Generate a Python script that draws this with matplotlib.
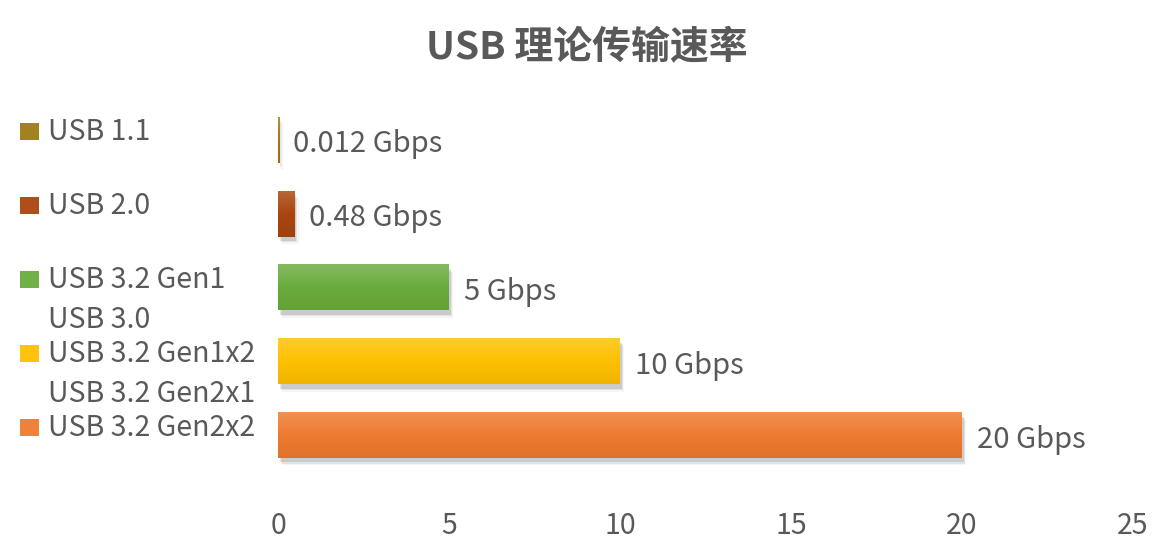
import numpy as np
import matplotlib
matplotlib.use("Agg")
from matplotlib import pyplot as plt
from matplotlib import colors as mcolors
from matplotlib.patches import Rectangle

plt.rcParams['font.family'] = ['Noto Sans CJK SC', 'DejaVu Sans']

# 数据
categories = ["USB 1.1", "USB 2.0", "USB 3.2 Gen1\nUSB 3.0",
              "USB 3.2 Gen1x2\nUSB 3.2 Gen2x1", "USB 3.2 Gen2x2"]
speeds = [0.012, 0.48, 5, 10, 20]
speed_labels = ["0.012 Gbps", "0.48 Gbps", "5 Gbps", "10 Gbps", "20 Gbps"]
bar_colors = ["#9C7B12", "#A9450F", "#6AAB3D", "#FFC000", "#EE7A2E"]
xticks = [0, 5, 10, 15, 20, 25]

text_color = "#595959"
W, H = 1174, 559

fig = plt.figure(figsize=(W / 100, H / 100), dpi=100)
ax = fig.add_axes([278 / W, 1 - 472 / H, (1133 - 278) / W, (472 - 103) / H])

bar_h = 0.62


def shade(c, f):
    r = np.array(mcolors.to_rgb(c))
    if f > 0:
        return r + (1 - r) * f
    return r * (1 + f)


for i, (v, c) in enumerate(zip(speeds, bar_colors)):
    w = max(v, 0.03)
    # 阴影
    for k, a in enumerate([0.10, 0.07, 0.04]):
        ax.add_patch(Rectangle((0.05 + 0.04 * k, i - bar_h / 2 + 0.06 + 0.02 * k), w, bar_h,
                               facecolor="black", alpha=a, edgecolor="none", zorder=1))
    # 渐变
    top = shade(c, 0.18)
    mid = shade(c, 0.0)
    bot = shade(c, -0.06)
    t = np.linspace(0, 1, 60)[:, None]
    grad = np.where(t < 0.5, top + (mid - top) * (t / 0.5),
                    mid + (bot - mid) * ((t - 0.5) / 0.5))
    grad = grad.reshape(60, 1, 3)
    ax.imshow(grad, extent=(0, w, i + bar_h / 2, i - bar_h / 2), aspect="auto",
              zorder=2, interpolation="bilinear")
    ax.text(v + 0.44, i + 0.06, speed_labels[i], va="center", ha="left",
            fontsize=21, color=text_color)

ax.set_xlim(0, 25)
ax.set_ylim(4.5, -0.5)
ax.set_xticks(xticks)
ax.set_xticklabels([str(x) for x in xticks])
ax.set_yticks([])
ax.tick_params(axis="x", length=0, pad=28, labelsize=20.5, labelcolor=text_color)
for s in ax.spines.values():
    s.set_visible(False)

# 图例
for i, name in enumerate(categories):
    yc = 1 - (131 + 74 * i) / H
    fig.patches.append(Rectangle((20 / W, yc - 8.5 / H), 19 / W, 17 / H,
                                 transform=fig.transFigure, figure=fig,
                                 facecolor=shade(bar_colors[i], 0.05), edgecolor="none"))
    lines = name.split("\n")
    for j, ln in enumerate(lines):
        fig.text(48 / W, yc - 1 / H - 40 * j / H, ln, va="center", ha="left",
                 fontsize=20.5, color=text_color)

fig.text(0.5, 1 - 48 / H, "USB 理论传输速率", ha="center", va="center",
         fontsize=28, fontweight="bold", color=text_color)

fig.savefig("out.png", dpi=100)
